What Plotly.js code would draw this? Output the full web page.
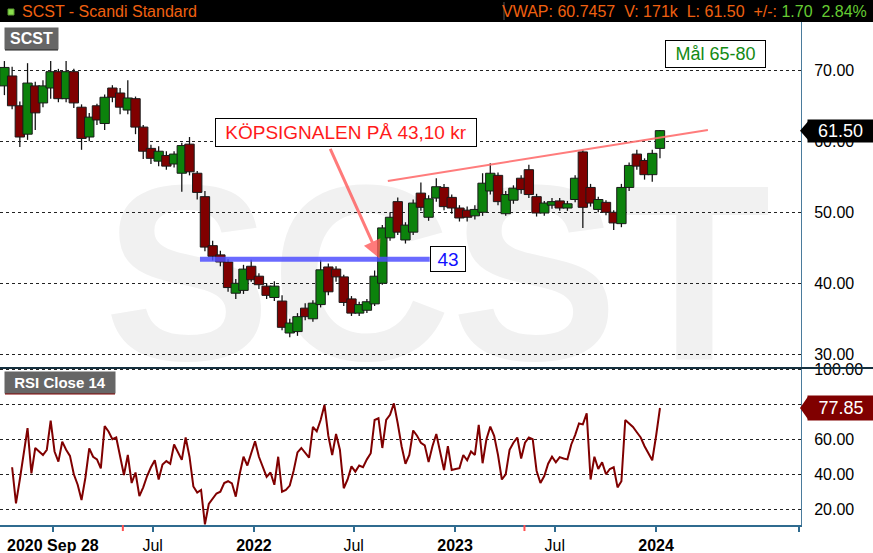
<!DOCTYPE html>
<html><head><meta charset="utf-8">
<script src="https://cdn.plot.ly/plotly-3.0.1.min.js"></script>
<style>
html,body{margin:0;padding:0;background:#fff;width:873px;height:553px;overflow:hidden;}
#wm{position:absolute;left:0;top:0;z-index:0;}
#chart{position:absolute;left:0;top:0;width:873px;height:553px;z-index:1;}
</style></head><body>
<svg id="wm" width="873" height="553"><text x="104" y="360" font-family="Liberation Sans, Arial, sans-serif" font-weight="bold" font-size="250" fill="#f1f1f1">SCST</text></svg>
<div id="chart"></div>
<script>
// ---- Candles (bi-weekly) ----
const candleDates = [
"2020-10-05","2020-10-19","2020-11-02","2020-11-16","2020-11-30","2020-12-14","2020-12-28",
"2021-01-11","2021-01-25","2021-02-08","2021-02-22","2021-03-08","2021-03-22","2021-04-05","2021-04-19","2021-05-03","2021-05-17","2021-05-31","2021-06-14","2021-06-28","2021-07-12","2021-07-26","2021-08-09","2021-08-23","2021-09-06","2021-09-20","2021-10-04","2021-10-18","2021-11-01","2021-11-15","2021-11-29","2021-12-13","2021-12-27",
"2022-01-10","2022-01-24","2022-02-07","2022-02-21","2022-03-07","2022-03-21","2022-04-04","2022-04-18","2022-05-02","2022-05-16","2022-05-30","2022-06-13","2022-06-27","2022-07-11","2022-07-25","2022-08-08","2022-08-22","2022-09-05","2022-09-19","2022-10-03","2022-10-17","2022-10-31","2022-11-14","2022-11-28","2022-12-12","2022-12-26",
"2023-01-09","2023-01-23","2023-02-06","2023-02-20","2023-03-06","2023-03-20","2023-04-03","2023-04-17","2023-05-01","2023-05-15","2023-05-29","2023-06-12","2023-06-26","2023-07-10","2023-07-24","2023-08-07","2023-08-21","2023-09-04","2023-09-18","2023-10-02","2023-10-16","2023-10-30","2023-11-13","2023-11-27","2023-12-11","2023-12-25",
"2024-01-08"];
const openP  = [67.8,69.2,65.0,61.0,67.8,65.4,67.5,69.8,66.0,69.8,64.8,60.6,65.0,62.5,67.5,66.8,64.4,66.0,62.0,59.0,57.2,58.0,56.8,55.5,59.6,55.5,52.2,45.3,44.0,43.0,38.6,39.0,42.4,41.0,39.6,38.0,37.5,33.0,33.2,36.5,35.0,37.0,42.3,42.0,40.9,37.8,35.8,36.2,37.1,40.0,46.4,51.5,46.1,47.2,52.7,49.3,52.0,53.5,52.1,50.6,50.3,49.5,50.0,53.0,55.2,49.8,51.7,54.8,56.0,52.2,49.9,51.0,51.6,50.6,51.8,58.5,53.5,50.4,51.4,50.0,48.4,53.5,58.2,57.3,55.3,59.0];
const highP  = [71.3,70.5,65.6,71.0,68.4,68.6,71.3,70.2,71.3,70.2,65.2,64.0,65.3,66.6,67.9,67.5,68.6,66.3,62.3,59.5,59.3,58.6,58.6,59.8,60.6,55.8,53.0,46.0,44.6,43.4,40.6,42.6,43.3,41.4,40.0,40.3,38.3,35.0,35.8,37.2,37.6,43.3,42.8,42.4,41.2,38.2,37.4,37.8,41.8,48.2,50.0,52.1,48.6,51.8,54.2,52.4,54.8,54.0,52.5,51.0,50.8,51.0,55.5,56.9,55.6,53.0,53.8,55.2,56.7,52.6,51.6,52.0,52.0,51.6,55.2,58.8,54.0,52.2,51.7,50.3,54.0,57.0,58.8,57.6,58.8,61.6];
const lowP   = [66.5,64.5,59.2,60.2,61.6,64.8,66.0,65.5,65.5,64.7,58.8,60.0,62.3,61.6,65.5,63.8,63.8,61.0,57.5,56.8,56.5,56.0,56.3,52.9,55.2,51.8,44.5,43.2,42.4,38.8,37.8,38.5,40.2,39.2,37.8,37.5,33.4,32.4,32.6,34.8,34.6,36.6,38.3,40.2,36.8,35.4,35.4,35.8,36.8,39.8,46.0,46.8,45.6,46.8,50.2,48.8,51.5,50.3,49.8,48.7,48.7,49.0,49.5,52.5,51.0,49.5,51.2,52.6,52.0,49.4,49.5,50.5,50.2,50.2,51.4,47.8,50.8,50.0,49.6,47.5,47.9,53.0,56.0,54.6,54.3,57.6];
const closeP = [70.4,65.0,60.6,68.2,64.0,67.8,69.8,66.0,69.8,65.4,60.4,63.4,63.0,66.2,66.2,64.8,66.1,62.0,58.6,57.6,58.6,56.5,58.2,59.4,55.7,52.8,45.1,43.8,43.0,39.4,40.0,42.0,40.5,39.8,38.3,39.6,33.8,34.4,35.3,35.3,37.2,41.9,38.8,40.9,37.3,35.8,37.0,37.4,41.0,47.8,49.3,47.2,48.2,51.3,50.7,51.9,53.6,50.8,50.6,49.2,49.3,50.4,54.1,55.5,51.5,52.5,53.4,53.2,52.5,49.9,51.3,51.5,50.6,51.2,54.8,50.7,51.3,51.8,50.0,48.5,53.5,56.6,56.5,55.3,58.3,61.5];

// ---- RSI Close 14 (weekly) ----
const rsiDates = [
"2020-10-19","2020-10-26","2020-11-02","2020-11-09","2020-11-16","2020-11-23","2020-11-30","2020-12-07","2020-12-14","2020-12-21","2020-12-28",
"2021-01-04","2021-01-11","2021-01-18","2021-01-25","2021-02-01","2021-02-08","2021-02-15","2021-02-22","2021-03-01","2021-03-08","2021-03-15","2021-03-22","2021-03-29",
"2021-04-05","2021-04-12","2021-04-19","2021-04-26","2021-05-03","2021-05-10","2021-05-17","2021-05-24","2021-05-31","2021-06-07","2021-06-14","2021-06-21","2021-06-28",
"2021-07-05","2021-07-12","2021-07-19","2021-07-26","2021-08-02","2021-08-09","2021-08-16","2021-08-23","2021-08-30","2021-09-06","2021-09-13","2021-09-20","2021-09-27",
"2021-10-04","2021-10-11","2021-10-18","2021-10-25","2021-11-01","2021-11-08","2021-11-15","2021-11-22","2021-11-29","2021-12-06","2021-12-13","2021-12-20","2021-12-27",
"2022-01-03","2022-01-10","2022-01-17","2022-01-24","2022-01-31","2022-02-07","2022-02-14","2022-02-21","2022-02-28","2022-03-07","2022-03-14","2022-03-21","2022-03-28",
"2022-04-04","2022-04-11","2022-04-18","2022-04-25","2022-05-02","2022-05-09","2022-05-16","2022-05-23","2022-05-30","2022-06-06","2022-06-13","2022-06-20","2022-06-27",
"2022-07-04","2022-07-11","2022-07-18","2022-07-25","2022-08-01","2022-08-08","2022-08-15","2022-08-22","2022-08-29","2022-09-05","2022-09-12","2022-09-19","2022-09-26",
"2022-10-03","2022-10-10","2022-10-17","2022-10-24","2022-10-31","2022-11-07","2022-11-14","2022-11-21","2022-11-28","2022-12-05","2022-12-12","2022-12-19","2022-12-26",
"2023-01-02","2023-01-09","2023-01-16","2023-01-23","2023-01-30","2023-02-06","2023-02-13","2023-02-20","2023-02-27","2023-03-06","2023-03-13","2023-03-20","2023-03-27",
"2023-04-03","2023-04-10","2023-04-17","2023-04-24","2023-05-01","2023-05-08","2023-05-15","2023-05-22","2023-05-29","2023-06-05","2023-06-12","2023-06-19","2023-06-26",
"2023-07-03","2023-07-10","2023-07-17","2023-07-24","2023-07-31","2023-08-07","2023-08-14","2023-08-21","2023-08-28","2023-09-04","2023-09-11","2023-09-18","2023-09-25",
"2023-10-02","2023-10-09","2023-10-16","2023-10-23","2023-10-30","2023-11-06","2023-11-13","2023-11-20","2023-11-27","2023-12-04","2023-12-11","2023-12-18","2023-12-25",
"2024-01-01","2024-01-08"];
const rsiValues = [
44,23.4,37,52,66.3,40.5,55,53,51,54,70.6,
53,47.2,58.6,54,50.5,40,34,25.3,38,54.8,50,48.5,43.4,
67.5,64.4,60,61,50,39.6,51,35,41,27.5,32.5,39,44,
48,37,45.5,47.5,46,57,53,48.2,61,50,33,29.5,31,
11.4,23,26,29,30,35,36,34.8,27.2,40,50,45,52,
58.8,50,44,38.5,41,34,50,30,31,33.5,42,52.5,55,
52,49.5,67,64.5,71,79.6,62,51,63,54,32,37,44.5,
41.5,45,44,48.5,52,71,72,55,71,74,80.5,69,56,
46,51,65,62,58,56.5,47,56,63,53,42.4,56,42.4,
43,43.5,51,48,53,51,68.2,46.3,60,67.2,62,51,37,
40,54,58,61,49,58,61,60,42,35,39,46,50,
46.8,49.8,49,48.5,57,62.4,69,68.5,74.8,37,50,43,46.8,
40,43,44,32.5,36,71,69,67,64,61,56,52,48,
62,77.85];

// ---- Axis labels ----
const xTickVals = ["2021-01-01","2021-07-01","2022-01-01","2022-07-01","2023-01-01","2023-07-01","2024-01-01","2024-09-16"];
const xTickText = ["<b>2020 Sep 28</b>","Jul","<b>2022</b>","Jul","<b>2023</b>","Jul","<b>2024</b>",""];
const priceTicks = [30,40,50,60,70];
const priceTickText = ["30.00","40.00","50.00","60.00","70.00"];
const rsiTicks = [20,40,60,80,100];
const rsiTickText = ["20.00","40.00","60.00","","100.00"];
const lastPrice = 61.50;
const lastRsi = 77.85;

const FONT = "Liberation Sans, Arial, sans-serif";
const DAY = 86400000;
const px = x => x/801;
const py = y => (525 - y)/503;

const bodyBase = openP.map((o,i)=>Math.min(o,closeP[i]));
const bodyLen = openP.map((o,i)=>Math.abs(closeP[i]-o));
const bodyColor = openP.map((o,i)=> closeP[i]>=o ? '#0c820c' : '#800000');
const wickLen = highP.map((h,i)=>h-lowP[i]);

const traces = [
  {type:'bar', x:candleDates, y:wickLen, base:lowP, width:2.3*DAY,
   marker:{color:'#111', line:{width:0}}, xaxis:'x', yaxis:'y', hoverinfo:'skip'},
  {type:'bar', x:candleDates, y:bodyLen, base:bodyBase, width:17*DAY,
   marker:{color:bodyColor, line:{color:'#1a1a1a', width:1}}, xaxis:'x', yaxis:'y', hoverinfo:'skip'},
  {type:'scatter', mode:'lines', x:rsiDates, y:rsiValues, line:{color:'#800000', width:2},
   xaxis:'x', yaxis:'y2', hoverinfo:'skip'}
];

const SPLIT = py(368);
const axCol = '#2f6b8f';

const layout = {
  width:873, height:553, margin:{l:0,r:72,t:22,b:28,pad:0},
  paper_bgcolor:'rgba(0,0,0,0)', plot_bgcolor:'rgba(0,0,0,0)',
  showlegend:false, barmode:'overlay', hovermode:false,
  font:{family:FONT, size:16, color:'#000'},
  xaxis:{type:'date', range:['2020-09-27','2024-09-20'], anchor:'y2',
    tickmode:'array', tickvals:xTickVals, ticktext:xTickText,
    ticks:'outside', ticklen:5, tickwidth:2, tickcolor:axCol,
    showline:true, linecolor:axCol, linewidth:2, showgrid:false, zeroline:false,
    tickfont:{size:16, color:'#000', family:FONT}},
  yaxis:{domain:[SPLIT,1], range:[28.07,76.8], side:'right', anchor:'x',
    tickmode:'array', tickvals:priceTicks, ticktext:priceTickText, ticks:'',
    showline:true, linecolor:'#4a7b9c', linewidth:1,
    showgrid:true, gridcolor:'#222', griddash:'dot', gridwidth:1, zeroline:false,
    tickfont:{size:16, color:'#000', family:FONT}, ticklabelstandoff:9},
  yaxis2:{domain:[0,SPLIT], range:[11.0,100.7], side:'right', anchor:'x',
    tickmode:'array', tickvals:rsiTicks, ticktext:rsiTickText, ticks:'',
    showline:true, linecolor:'#4a7b9c', linewidth:1,
    showgrid:true, gridcolor:'#222', griddash:'dot', gridwidth:1, zeroline:false,
    tickfont:{size:16, color:'#000', family:FONT}, ticklabelstandoff:9},
  shapes:[
    {type:'rect', xref:'paper', yref:'paper', x0:px(0), x1:px(873), y0:py(22), y1:py(0), fillcolor:'#000', line:{width:0}, layer:'above'},
    {type:'rect', xref:'paper', yref:'paper', x0:px(8), x1:px(14), y0:py(15), y1:py(9), fillcolor:'#8be04e', line:{color:'#5a9a30', width:1}, layer:'above'},
    {type:'line', xref:'paper', yref:'paper', x0:px(504), x1:px(504), y0:py(2), y1:py(20), line:{color:'#555', width:1}, layer:'above'},
    {type:'line', xref:'paper', yref:'paper', x0:0, x1:px(873), y0:SPLIT, y1:SPLIT, line:{color:'#15303f', width:2}, layer:'above'},
    {type:'line', xref:'paper', yref:'paper', x0:px(5), x1:px(58), y0:py(49.5), y1:py(49.5), line:{color:'#222', width:2}, layer:'above'},
    {type:'line', xref:'paper', yref:'paper', x0:px(5), x1:px(115), y0:py(393.5), y1:py(393.5), line:{color:'#800000', width:2}, layer:'above'},
    {type:'line', xref:'x', yref:'y', x0:'2021-09-25', x1:'2022-11-16', y0:43.4, y1:43.4, line:{color:'rgba(80,80,255,0.85)', width:5}, layer:'above'},
    {type:'line', xref:'x', yref:'y', x0:'2022-09-01', x1:'2024-04-04', y0:54.4, y1:61.6, line:{color:'rgba(255,110,110,0.9)', width:2}, layer:'above'},
    {type:'line', xref:'x', yref:'paper', x0:'2021-05-08', x1:'2021-05-08', y0:0, y1:-0.012, line:{color:'#ff5050', width:2}},
    {type:'line', xref:'x', yref:'paper', x0:'2023-05-07', x1:'2023-05-07', y0:0, y1:-0.012, line:{color:'#ff5050', width:2}},
    {type:'path', xref:'paper', yref:'y', path:`M ${px(800)},${lastPrice} L ${px(809)},${lastPrice+1.45} L ${px(809)},${lastPrice-1.45} Z`, fillcolor:'#000', line:{width:0}, layer:'above'},
    {type:'path', xref:'paper', yref:'y2', path:`M ${px(800)},${lastRsi} L ${px(808)},${lastRsi+6.5} L ${px(808)},${lastRsi-6.5} Z`, fillcolor:'#800000', line:{width:0}, layer:'above'}
  ],
  annotations:[
    {xref:'paper', yref:'paper', x:px(20), y:py(11), xanchor:'left', yanchor:'middle', showarrow:false,
     text:'SCST - Scandi Standard', font:{family:FONT, size:16, color:'#f06010'}},
    {xref:'paper', yref:'paper', x:px(869), y:py(11), xanchor:'right', yanchor:'middle', showarrow:false,
     text:'<span style="color:#f06010">VWAP: 60.7457&nbsp; V: 171k&nbsp; L: 61.50&nbsp; +/-: </span><span style="color:#66cc33">1.70&nbsp; 2.84%</span>',
     font:{family:FONT, size:16, color:'#f06010'}},
    {xref:'paper', yref:'paper', x:px(31.5), y:py(38.5), xanchor:'center', yanchor:'middle', showarrow:false,
     text:'<b>SCST</b>', font:{family:FONT, size:16, color:'#fff'}, bgcolor:'#666', width:49, height:17, borderpad:2},
    {xref:'paper', yref:'paper', x:px(60), y:py(382.5), xanchor:'center', yanchor:'middle', showarrow:false,
     text:'<b>RSI Close 14</b>', font:{family:FONT, size:15, color:'#fff'}, bgcolor:'#666', width:106, height:17, borderpad:2},
    {xref:'paper', yref:'paper', x:px(715.5), y:py(54), xanchor:'center', yanchor:'middle', showarrow:false,
     text:'Mål 65-80', font:{family:FONT, size:18, color:'#138a13'}, bgcolor:'#fff', bordercolor:'#000', borderwidth:1, borderpad:2, width:95, height:22},
    {xref:'paper', yref:'paper', x:px(346), y:py(132.5), xanchor:'center', yanchor:'middle', showarrow:false,
     text:'KÖPSIGNALEN PÅ 43,10 kr', font:{family:FONT, size:19, color:'#ff1a1a'}, bgcolor:'#fff', bordercolor:'#000', borderwidth:1, borderpad:2, width:256, height:23},
    {xref:'paper', yref:'paper', x:px(448), y:py(259), xanchor:'center', yanchor:'middle', showarrow:false,
     text:'43', font:{family:FONT, size:19, color:'#1010ff'}, bgcolor:'#fff', bordercolor:'#000', borderwidth:1, borderpad:2, width:30, height:20},
    {xref:'x', yref:'y', x:'2022-08-17', y:43.5, ax:-50, ay:-111, text:'', showarrow:true,
     arrowcolor:'rgba(255,90,90,0.8)', arrowwidth:3, arrowhead:2, arrowsize:1.2, standoff:0},
    {xref:'paper', yref:'y', x:px(840.5), y:lastPrice, xanchor:'center', yanchor:'middle', showarrow:false,
     text:lastPrice.toFixed(2), font:{family:FONT, size:18, color:'#fff'}, bgcolor:'#000', width:61, height:18, borderpad:2},
    {xref:'paper', yref:'y2', x:px(840.5), y:lastRsi, xanchor:'center', yanchor:'middle', showarrow:false,
     text:lastRsi.toFixed(2), font:{family:FONT, size:18, color:'#fff'}, bgcolor:'#800000', width:62, height:20, borderpad:2}
  ]
};

Plotly.newPlot('chart', traces, layout, {staticPlot:true, displayModeBar:false});
</script></body></html>
